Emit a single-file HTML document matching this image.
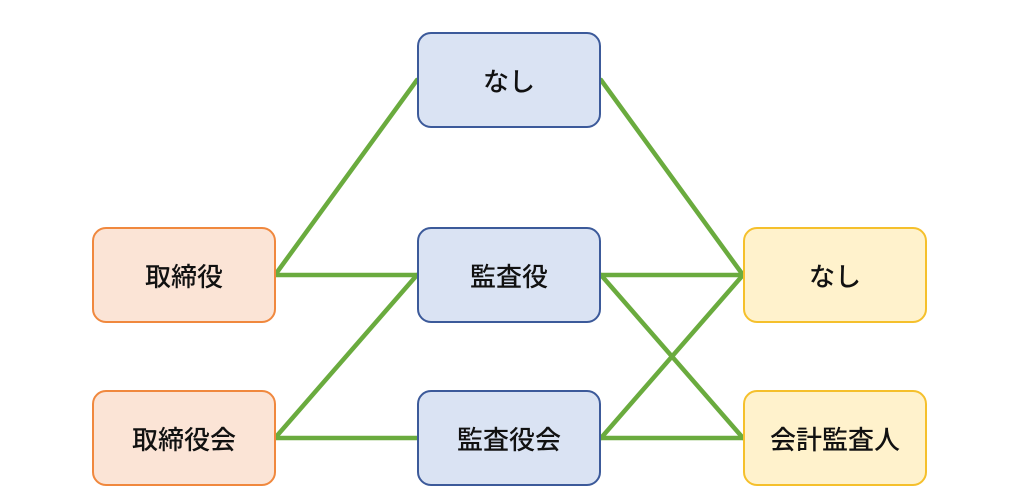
<!DOCTYPE html>
<html><head><meta charset="utf-8"><style>
body{margin:0;width:1024px;height:491px;background:#fff;overflow:hidden;position:relative;font-family:"Liberation Sans","Noto Sans CJK JP",sans-serif;}
.b{position:absolute;width:184px;height:96px;border-radius:14px;box-sizing:border-box;border:2px solid;display:flex;align-items:center;justify-content:center;font-size:26px;font-weight:500;color:#111;}
.o{background:#fbe4d6;border-color:#f0883e;}
.u{background:#dae3f3;border-color:#3c5a9a;}
.y{background:#fff2cc;border-color:#f5c02c;}
svg{position:absolute;left:0;top:0;}
</style></head><body>
<svg width="1024" height="491"><g stroke="#6aab3e" stroke-width="4.5" fill="none" stroke-linecap="round">
<line x1="275" y1="275" x2="417" y2="80"/>
<line x1="275" y1="275" x2="417" y2="275"/>
<line x1="275" y1="438" x2="417" y2="275"/>
<line x1="275" y1="438" x2="417" y2="438"/>
<line x1="601" y1="80" x2="743" y2="275"/>
<line x1="601" y1="275" x2="743" y2="275"/>
<line x1="601" y1="275" x2="743" y2="438"/>
<line x1="601" y1="438" x2="743" y2="275"/>
<line x1="601" y1="438" x2="743" y2="438"/>
</g></svg>
<div class="b o" style="left:92px;top:227px">取締役</div>
<div class="b o" style="left:92px;top:390px">取締役会</div>
<div class="b u" style="left:417px;top:32px">なし</div>
<div class="b u" style="left:417px;top:227px">監査役</div>
<div class="b u" style="left:417px;top:390px">監査役会</div>
<div class="b y" style="left:743px;top:227px">なし</div>
<div class="b y" style="left:743px;top:390px">会計監査人</div>
</body></html>
